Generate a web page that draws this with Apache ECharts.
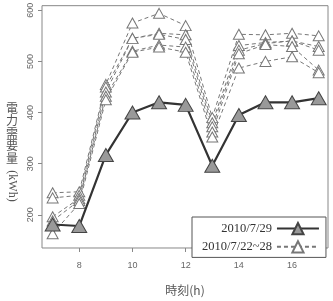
<!DOCTYPE html>
<html>
<head>
<meta charset="utf-8">
<script src="https://cdn.jsdelivr.net/npm/echarts@6/dist/echarts.min.js"></script>
<style>
  html, body { margin: 0; padding: 0; background: #fff; }
  #chart { width: 333px; height: 301px; }
</style>
</head>
<body>
<div id="chart"></div>
<script>
// horas del día
const hours = [7, 8, 9, 10, 11, 12, 13, 14, 15, 16, 17];
const xTicks = [8, 10, 12, 14, 16];
const yTicks = [200, 300, 400, 500, 600];

// 2010/7/29
const day0729 = [181, 178, 317, 400, 420, 415, 296, 395, 420, 420, 428];

// 2010/7/22~28 (días laborables)
const week1 = [243, 245, 455, 575, 594, 570, 390, 553, 552, 555, 550];
const week2 = [233, 238, 450, 545, 555, 552, 380, 531, 537, 540, 529];
const week3 = [196, 232, 440, 545, 553, 543, 372, 522, 535, 540, 522];
const week4 = [188, 228, 432, 520, 532, 528, 362, 515, 533, 529, 483];
const week5 = [163, 222, 425, 518, 528, 518, 352, 487, 500, 509, 478];
const weekDays = [week1, week2, week3, week4, week5];

const NAME_DAY = '2010/7/29';
const NAME_WEEK = '2010/7/22~28';
const Y_NAME_CJK = '電力需要量';
const Y_NAME_UNIT = '(kWh)';

const chart = echarts.init(document.getElementById('chart'));

const pairs = arr => arr.map((v, i) => [hours[i], v]);

const weekSeries = weekDays.map(arr => ({
  name: NAME_WEEK,
  type: 'line',
  data: pairs(arr),
  symbol: 'triangle',
  symbolSize: [11, 10],
  lineStyle: { color: '#777', width: 1, type: [4, 3] },
  itemStyle: { color: '#fff', borderColor: '#777', borderWidth: 1 },
  z: 2
}));

// nombre del eje Y en escritura vertical (caracteres CJK de pie)
const yNameGraphics = Y_NAME_CJK.split('').map((ch, i) => ({
  type: 'text',
  x: 12, y: 108 + i * 12.5,
  style: {
    text: ch,
    font: '12px "Noto Sans CJK JP"',
    align: 'center',
    verticalAlign: 'middle',
    fill: '#555'
  }
}));

chart.setOption({
  animation: false,
  grid: {
    left: 42, right: 5, top: 4, bottom: 41,
    show: true, borderColor: '#888', borderWidth: 1
  },
  legend: {
    data: [NAME_DAY, NAME_WEEK],
    orient: 'vertical',
    left: 192, top: 217,
    align: 'right',
    backgroundColor: '#fff',
    borderColor: '#555', borderWidth: 1,
    padding: [5, 6, 4, 10],
    itemGap: 5,
    itemWidth: 42, itemHeight: 14,
    textStyle: { fontFamily: 'Liberation Serif', fontSize: 12.5, color: '#333' }
  },
  xAxis: {
    type: 'value',
    min: 6.6, max: 17.35,
    name: '時刻(h)',
    nameLocation: 'middle',
    nameGap: 36,
    nameTextStyle: { fontFamily: 'Noto Sans CJK JP', fontSize: 12, color: '#555' },
    axisLine: { show: false },
    axisTick: { show: true, length: 4, lineStyle: { color: '#888' }, customValues: xTicks },
    axisLabel: { fontSize: 9, color: '#666', margin: 13, customValues: xTicks },
    splitLine: { show: false }
  },
  yAxis: {
    type: 'value',
    min: 135, max: 609,
    axisLine: { show: false },
    axisTick: { show: true, length: 4, lineStyle: { color: '#888' }, customValues: yTicks },
    axisLabel: { fontSize: 9, color: '#666', rotate: 90, margin: 7, customValues: yTicks },
    splitLine: { show: false }
  },
  graphic: [
    ...yNameGraphics,
    {
      type: 'text',
      x: 12, y: 186,
      rotation: -Math.PI / 2,
      style: {
        text: Y_NAME_UNIT,
        font: '12px "Liberation Serif"',
        fill: '#555',
        align: 'center',
        verticalAlign: 'middle'
      }
    }
  ],
  series: [
    ...weekSeries,
    {
      name: NAME_DAY,
      type: 'line',
      data: pairs(day0729),
      symbol: 'triangle',
      symbolSize: [15, 13],
      lineStyle: { color: '#333', width: 2.2 },
      itemStyle: { color: '#999', borderColor: '#444', borderWidth: 1 },
      z: 3
    }
  ]
});
</script>
</body>
</html>
